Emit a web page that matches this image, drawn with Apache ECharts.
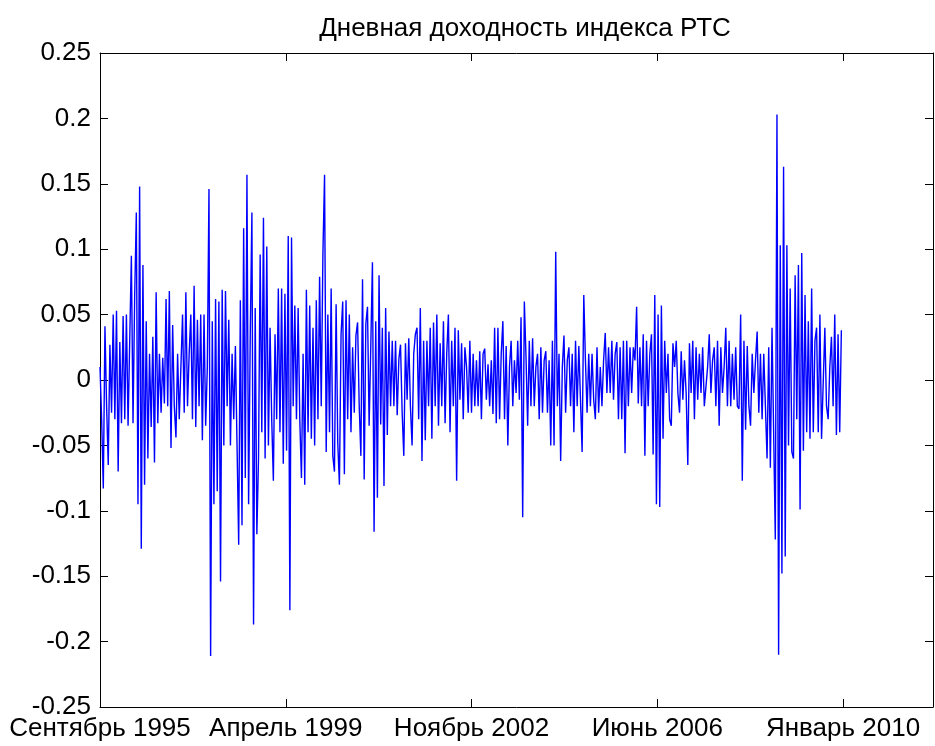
<!DOCTYPE html>
<html>
<head>
<meta charset="utf-8">
<script src="https://cdn.jsdelivr.net/npm/echarts@6/dist/echarts.min.js"></script>
<style>html,body{margin:0;padding:0;background:#fff}#c{width:935px;height:746px}</style>
</head>
<body>
<div id="c"></div>
<script>
// Daily RTS index returns (one value every 8 trading days)
const returnsSep1995_Apr1999 = [
  0.01,-0.03,-0.083,0.041,-0.02,-0.065,
  0.027,-0.025,0.05,-0.03,0.053,-0.07,
  0.029,-0.033,0.049,-0.03,0.05,-0.035,
  -0.035,0.095,-0.033,0.064,0.128,-0.095,
  0.148,-0.129,0.088,-0.08,0.045,-0.06,
  0.02,-0.036,0.033,-0.063,0.067,-0.033,
  0.02,-0.025,0.017,-0.018,0.062,-0.02,
  0.068,-0.052,0.042,-0.02,-0.044,0.02,
  -0.03,0.01,0.05,-0.025,0.067,-0.02,
  0.02,0.05,-0.03,0.072,-0.036,0.046,
  -0.02,0.05,-0.046,0.05,-0.035,0.01,
  0.146,-0.211,0.045,-0.095,0.062,-0.085,
  0.06,-0.154,0.069,-0.05,0.068,-0.02,
  0.046,-0.05,0.02,-0.03,0.026,-0.05,
  -0.126,0.061,-0.111,0.116,-0.075,0.157,
  -0.095,0.035,0.128,-0.187,0.055,-0.118,
  -0.06,0.096,-0.04,0.124,-0.06,0.102,
  -0.05,0.04,-0.03,-0.077,0.035,-0.03,
  0.07,-0.04,0.07,-0.064,0.066,-0.054
];
const returnsApr1999_Nov2002 = [
  0.11,-0.176,0.109,-0.02,0.057,-0.03,
  0.055,-0.03,-0.075,0.02,-0.08,0.069,
  -0.04,0.057,-0.045,0.04,-0.05,0.061,
  -0.03,0.079,-0.02,0.096,0.157,-0.055,
  0.05,-0.04,0.07,-0.058,-0.07,0.058,
  -0.048,-0.08,0.035,0.06,-0.072,0.061,
  -0.03,0.05,-0.04,0.025,-0.025,0.034,
  0.044,-0.02,-0.058,0.077,-0.076,0.043,
  0.056,-0.035,0.026,0.09,-0.116,0.045,
  -0.09,0.08,-0.034,0.04,-0.081,0.055,
  -0.042,0.037,-0.02,0.03,-0.02,0.03,
  -0.027,0.016,0.027,-0.025,-0.058,0.028,
  -0.015,0.032,-0.02,-0.05,0.02,0.035,
  0.04,-0.03,0.055,-0.062,0.03,-0.046,
  0.03,-0.02,0.04,-0.045,0.044,-0.02,
  0.05,-0.035,0.028,-0.02,0.045,-0.033,
  0.02,0.05,-0.04,0.03,-0.02,0.04,
  -0.077,0.038,-0.015,0.028,-0.03,0.025,
  0.01,-0.025,0.03,-0.025,0.02,-0.02
];
const returnsNov2002_Jun2006 = [
  0.015,-0.02,0.022,-0.03,0.02,0.024,
  -0.015,0.012,-0.02,0.015,-0.026,0.04,
  -0.033,0.04,-0.03,0.02,0.045,-0.03,
  0.026,-0.05,0.01,0.03,-0.02,0.015,
  -0.01,0.03,-0.015,0.048,-0.105,0.06,
  0.018,-0.035,0.03,-0.02,0.032,-0.02,
  0.01,0.02,-0.03,0.025,-0.025,0.015,
  0.022,-0.025,0.015,-0.05,0.03,-0.05,
  0.098,-0.02,0.02,-0.062,0.01,0.034,
  -0.025,0.015,0.025,-0.02,0.02,-0.04,
  0.03,-0.02,0.026,-0.015,-0.055,0.065,
  0.015,-0.025,0.02,-0.02,0.02,-0.015,
  -0.03,0.025,-0.025,0.01,-0.02,0.015,
  0.036,-0.01,0.025,-0.01,0.03,-0.015,
  0.02,0.029,-0.03,0.025,-0.03,0.03,
  -0.056,0.03,-0.02,0.025,-0.01,0.025,
  0.015,0.056,-0.018,0.025,-0.02,0.035,
  -0.058,0.03,-0.02,0.02,0.035,-0.057,
  0.065,-0.095,0.05,-0.097,0.057,-0.045
];
const returnsJun2006_Jan2010 = [
  0.03,-0.01,0.02,-0.03,-0.035,0.028,
  0.01,0.03,-0.01,-0.025,0.022,-0.015,
  0.015,-0.01,-0.065,0.028,-0.01,0.03,
  -0.03,0.025,-0.015,0.02,-0.01,0.025,
  -0.02,-0.02,0.01,0.035,-0.01,0.015,
  0.025,-0.02,0.03,-0.035,0.025,-0.01,
  0.01,0.04,-0.02,0.03,-0.02,0.02,
  -0.015,0.025,-0.02,-0.022,0.05,-0.077,
  0.03,-0.038,0.026,-0.02,-0.035,0.02,
  -0.01,0.015,0.037,-0.025,0.02,-0.03,
  0.02,-0.02,-0.06,0.025,-0.067,0.04,
  0.04,-0.122,0.203,-0.21,0.103,-0.148,
  0.163,-0.135,0.103,-0.05,0.07,-0.055,
  -0.06,0.08,-0.03,0.088,-0.099,0.097,
  -0.054,0.065,-0.04,0.045,-0.045,0.07,
  -0.04,0.03,0.04,-0.04,0.05,-0.045,
  -0.045,0.04,-0.02,-0.03,0.01,0.033,
  -0.02,0.05,-0.042,0.035,-0.04,0.038
];
const dayStep = 8;            // trading days between stored values
const tickDays = [0, 900, 1800, 2700, 3600];
const tickLabels = ['Сентябрь 1995', 'Апрель 1999', 'Ноябрь 2002', 'Июнь 2006', 'Январь 2010'];
const yTicks = [-0.25, -0.2, -0.15, -0.1, -0.05, 0, 0.05, 0.1, 0.15, 0.2, 0.25];
const titleText = 'Дневная доходность индекса РТС';

const returns = [].concat(returnsSep1995_Apr1999, returnsApr1999_Nov2002,
                          returnsNov2002_Jun2006, returnsJun2006_Jan2010);
const seriesData = returns.map((v, i) => [i * dayStep, v]);

const FONT = "'Liberation Sans', Arial, Helvetica, sans-serif";
const FS = 26;
const black = '#000';

const xCommon = {
  type: 'value', min: 0, max: 4036, interval: 900,
  axisLine: { show: true, onZero: false, lineStyle: { color: black, width: 1 } },
  axisTick: { show: true, inside: true, length: 8, lineStyle: { color: black, width: 1 } },
  splitLine: { show: false }
};
const yCommon = {
  type: 'value', min: yTicks[0], max: yTicks[yTicks.length - 1], interval: 0.05,
  axisLine: { show: true, onZero: false, lineStyle: { color: black, width: 1 } },
  axisTick: { show: true, inside: true, length: 8, lineStyle: { color: black, width: 1 } },
  splitLine: { show: false }
};

const chart = echarts.init(document.getElementById('c'), null, { renderer: 'canvas' });
chart.setOption({
  animation: false,
  backgroundColor: '#fff',
  title: {
    text: titleText, left: 520, top: 11, textAlign: 'center',
    textStyle: { fontFamily: FONT, fontSize: FS, fontWeight: 'normal', color: black }
  },
  grid: { left: 100, right: 2, top: 53, bottom: 39, containLabel: false },
  xAxis: [
    Object.assign({}, xCommon, {
      position: 'bottom',
      axisLabel: {
        show: true, color: black, fontFamily: FONT, fontSize: FS, margin: 9,
        showMaxLabel: false,
        formatter: v => { const k = tickDays.indexOf(Math.round(v)); return k >= 0 ? tickLabels[k] : ''; }
      }
    }),
    Object.assign({}, xCommon, { position: 'top', axisLabel: { show: false } })
  ],
  yAxis: [
    Object.assign({}, yCommon, {
      position: 'left',
      axisLabel: {
        show: true, color: black, fontFamily: FONT, fontSize: FS, margin: 9,
        formatter: v => String(parseFloat(v.toFixed(2)))
      }
    }),
    Object.assign({}, yCommon, { position: 'right', axisLabel: { show: false } })
  ],
  series: [{
    type: 'line', xAxisIndex: 0, yAxisIndex: 0, data: seriesData,
    symbol: 'none', lineStyle: { color: '#0000ff', width: 1.4 }, silent: true
  }]
});
</script>
</body>
</html>
